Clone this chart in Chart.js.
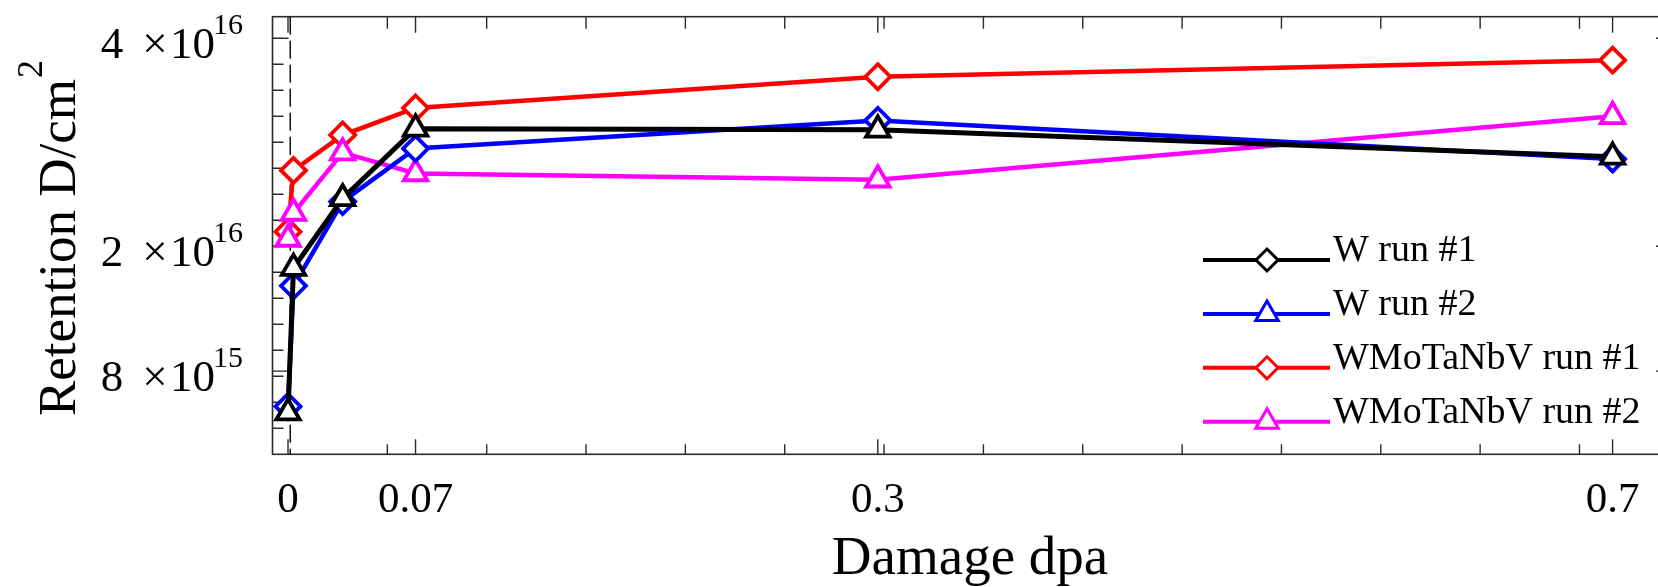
<!DOCTYPE html>
<html>
<head>
<meta charset="utf-8">
<title>Retention vs damage</title>
<script src="https://cdn.jsdelivr.net/npm/chart.js@4.4.1/dist/chart.umd.min.js"></script>
<style>
    html, body { margin: 0; padding: 0; background: #fff; overflow: hidden; }
    #wrap { width: 1658px; height: 587px; }
</style>
</head>
<body>
<div id="wrap"><canvas id="retention-chart" width="1658" height="587"></canvas></div>
<script>
// damage levels (dpa) at which each run was measured
const damageDpa = [0, 0.003, 0.03, 0.07, 0.3, 0.7];

// retention, D/cm^2
const wRun1 = [4.0e15, 1.79e16, 2.46e16, 3.13e16, 3.12e16, 2.86e16];
const wRun2 = [4.6e15, 1.62e16, 2.43e16, 2.94e16, 3.21e16, 2.84e16];
const heaRun1 = [2.14e16, 2.73e16, 3.07e16, 3.33e16, 3.63e16, 3.79e16];
const heaRun2 = [2.07e16, 2.32e16, 2.90e16, 2.70e16, 2.64e16, 3.25e16];

const seriesNames = ['W run #1', 'W run #2', 'WMoTaNbV run #1', 'WMoTaNbV run #2'];

// tick labels
const xTickDpa = [0, 0.07, 0.3, 0.7];
const xTickLabels = ['0', '0.07', '0.3', '0.7'];
const yTickValues = [8e15, 2e16, 4e16];
const yTickMantissa = ['8', '2', '4'];
const yTickExponent = ['15', '16', '16'];

// the original axis is stretched between its labelled values,
// these are the axis positions where the labelled dpa values sit
const xAxisKnots = [0, 0.0674, 0.3117, 0.7];

const SERIF = '"Liberation Serif", "Times New Roman", serif';
const colors = ['#000000', '#0000ff', '#ff0000', '#ff00ff'];
const plotMarkers = ['triangle', 'rectRot', 'rectRot', 'triangle'];
const legendMarkers = ['rectRot', 'triangle', 'rectRot', 'triangle'];
const drawOrder = [0, 1, 3, 2];

function dpaToAxis(d) {
    for (let i = 1; i < xTickDpa.length; i++) {
        if (d <= xTickDpa[i]) {
            const t = (d - xTickDpa[i - 1]) / (xTickDpa[i] - xTickDpa[i - 1]);
            return xAxisKnots[i - 1] + t * (xAxisKnots[i] - xAxisKnots[i - 1]);
        }
    }
    return xAxisKnots[xAxisKnots.length - 1];
}

function drawMarker(ctx, style, x, y, r) {
    ctx.beginPath();
    if (style === 'triangle') {
        ctx.moveTo(x, y - r);
        ctx.lineTo(x + r * 0.866, y + r / 2);
        ctx.lineTo(x - r * 0.866, y + r / 2);
    } else {
        ctx.moveTo(x, y - r);
        ctx.lineTo(x + r, y);
        ctx.lineTo(x, y + r);
        ctx.lineTo(x - r, y);
    }
    ctx.closePath();
    ctx.fill();
    ctx.stroke();
}

// frame (its right side lies just past the canvas), inward ticks, dashed zero line
const framePlugin = {
    id: 'frame',
    beforeDatasetsDraw(chart) {
        const { ctx, chartArea: a, scales: { x, y } } = chart;
        const edge = a.right + 6;
        ctx.save();
        ctx.strokeStyle = '#2a2a2a';
        ctx.lineWidth = 1.6;
        ctx.strokeRect(a.left, a.top, edge - a.left, a.bottom - a.top);

        ctx.lineWidth = 1.4;
        ctx.beginPath();
        // y minor ticks every 2.5e15
        for (let v = 2.5e15; v <= 4.01e16; v += 2.5e15) {
            const py = y.getPixelForValue(v);
            ctx.moveTo(a.left, py); ctx.lineTo(a.left + 11, py);
        }
        yTickValues.forEach(v => {
            const py = y.getPixelForValue(v);
            ctx.moveTo(a.left, py); ctx.lineTo(a.left + 16, py);
            ctx.moveTo(edge, py); ctx.lineTo(edge - 8, py);
        });
        // x minor ticks
        for (let k = 0; k <= 13; k++) {
            const px = x.getPixelForValue(k * 0.0525);
            ctx.moveTo(px, a.bottom); ctx.lineTo(px, a.bottom - 10);
            ctx.moveTo(px, a.top); ctx.lineTo(px, a.top + 12);
        }
        xAxisKnots.forEach(u => {
            const px = x.getPixelForValue(u);
            ctx.moveTo(px, a.bottom); ctx.lineTo(px, a.bottom - 15);
            ctx.moveTo(px, a.top); ctx.lineTo(px, a.top + 16);
        });
        ctx.stroke();

        // dashed line at zero damage
        const zx = x.getPixelForValue(0.0012);
        ctx.setLineDash([18, 6]);
        ctx.strokeStyle = '#111';
        ctx.lineWidth = 1.5;
        ctx.beginPath();
        ctx.moveTo(zx, a.top); ctx.lineTo(zx, a.bottom);
        ctx.stroke();
        ctx.restore();
    },
    afterDraw(chart) {
        const { ctx, scales: { x, y } } = chart;
        ctx.save();
        ctx.fillStyle = '#000';

        // x tick labels
        ctx.font = '43px ' + SERIF;
        ctx.textAlign = 'center';
        ctx.textBaseline = 'alphabetic';
        xTickLabels.forEach((lbl, i) => {
            ctx.fillText(lbl, x.getPixelForValue(xAxisKnots[i]), 511.5);
        });

        // y tick labels, m x 10^e
        yTickValues.forEach((v, i) => {
            const base = y.getPixelForValue(v) + 20;
            ctx.font = '45px ' + SERIF;
            ctx.textAlign = 'center';
            ctx.fillText(yTickMantissa[i], 112, base);
            ctx.fillText('\u00d7', 155, base);
            ctx.textAlign = 'left';
            ctx.fillText('10', 170, base);
            ctx.font = '30px ' + SERIF;
            ctx.fillText(yTickExponent[i], 213, base - 24);
        });

        // axis titles
        ctx.font = '55px ' + SERIF;
        ctx.textAlign = 'center';
        ctx.fillText('Damage dpa', 970, 574);

        ctx.save();
        ctx.translate(75, 416);
        ctx.rotate(-Math.PI / 2);
        ctx.textAlign = 'left';
        ctx.font = '53px ' + SERIF;
        const w = ctx.measureText('Retention D/cm').width;
        ctx.fillText('Retention D/cm', 0, 0);
        ctx.font = '36px ' + SERIF;
        ctx.fillText('2', w + 1, -33);
        ctx.restore();

        // legend
        seriesNames.forEach((name, i) => {
            const ly = 260 + i * 53.9;
            ctx.strokeStyle = colors[i];
            ctx.lineWidth = 4;
            ctx.beginPath();
            ctx.moveTo(1203, ly); ctx.lineTo(1330, ly);
            ctx.stroke();
            ctx.fillStyle = '#fff';
            ctx.lineWidth = 3;
            drawMarker(ctx, legendMarkers[i], 1267, ly, legendMarkers[i] === 'triangle' ? 13 : 11);
            ctx.fillStyle = '#000';
            ctx.font = '38px ' + SERIF;
            ctx.textAlign = 'left';
            ctx.fillText(name, 1333, ly + 1);
        });
        ctx.restore();
    }
};

const seriesValues = [wRun1, wRun2, heaRun1, heaRun2];

const datasets = seriesValues.map((vals, i) => ({
    label: seriesNames[i],
    data: vals.map((v, j) => ({ x: dpaToAxis(damageDpa[j]), y: v })),
    borderColor: colors[i],
    borderWidth: i === 0 ? 5 : 4.5,
    backgroundColor: colors[i],
    pointStyle: plotMarkers[i],
    pointRadius: plotMarkers[i] === 'triangle' ? 13.5 : 12.5,
    pointHoverRadius: plotMarkers[i] === 'triangle' ? 13.5 : 12.5,
    pointBorderWidth: 3.8,
    pointBorderColor: colors[i],
    pointBackgroundColor: '#ffffff',
    tension: 0,
    order: drawOrder[i],
    clip: false
}));

new Chart(document.getElementById('retention-chart'), {
    type: 'line',
    data: { datasets },
    options: {
        responsive: false,
        animation: false,
        events: [],
        layout: {
            autoPadding: false,
            padding: { left: 272.5, top: 16.7, right: 0, bottom: 132.7 }
        },
        scales: {
            x: { type: 'linear', display: false, min: -0.00819, max: 0.72399 },
            y: { type: 'linear', display: false, min: 0, max: 4.2077e16 }
        },
        plugins: {
            legend: { display: false },
            tooltip: { enabled: false }
        }
    },
    plugins: [framePlugin]
});
</script>
</body>
</html>
